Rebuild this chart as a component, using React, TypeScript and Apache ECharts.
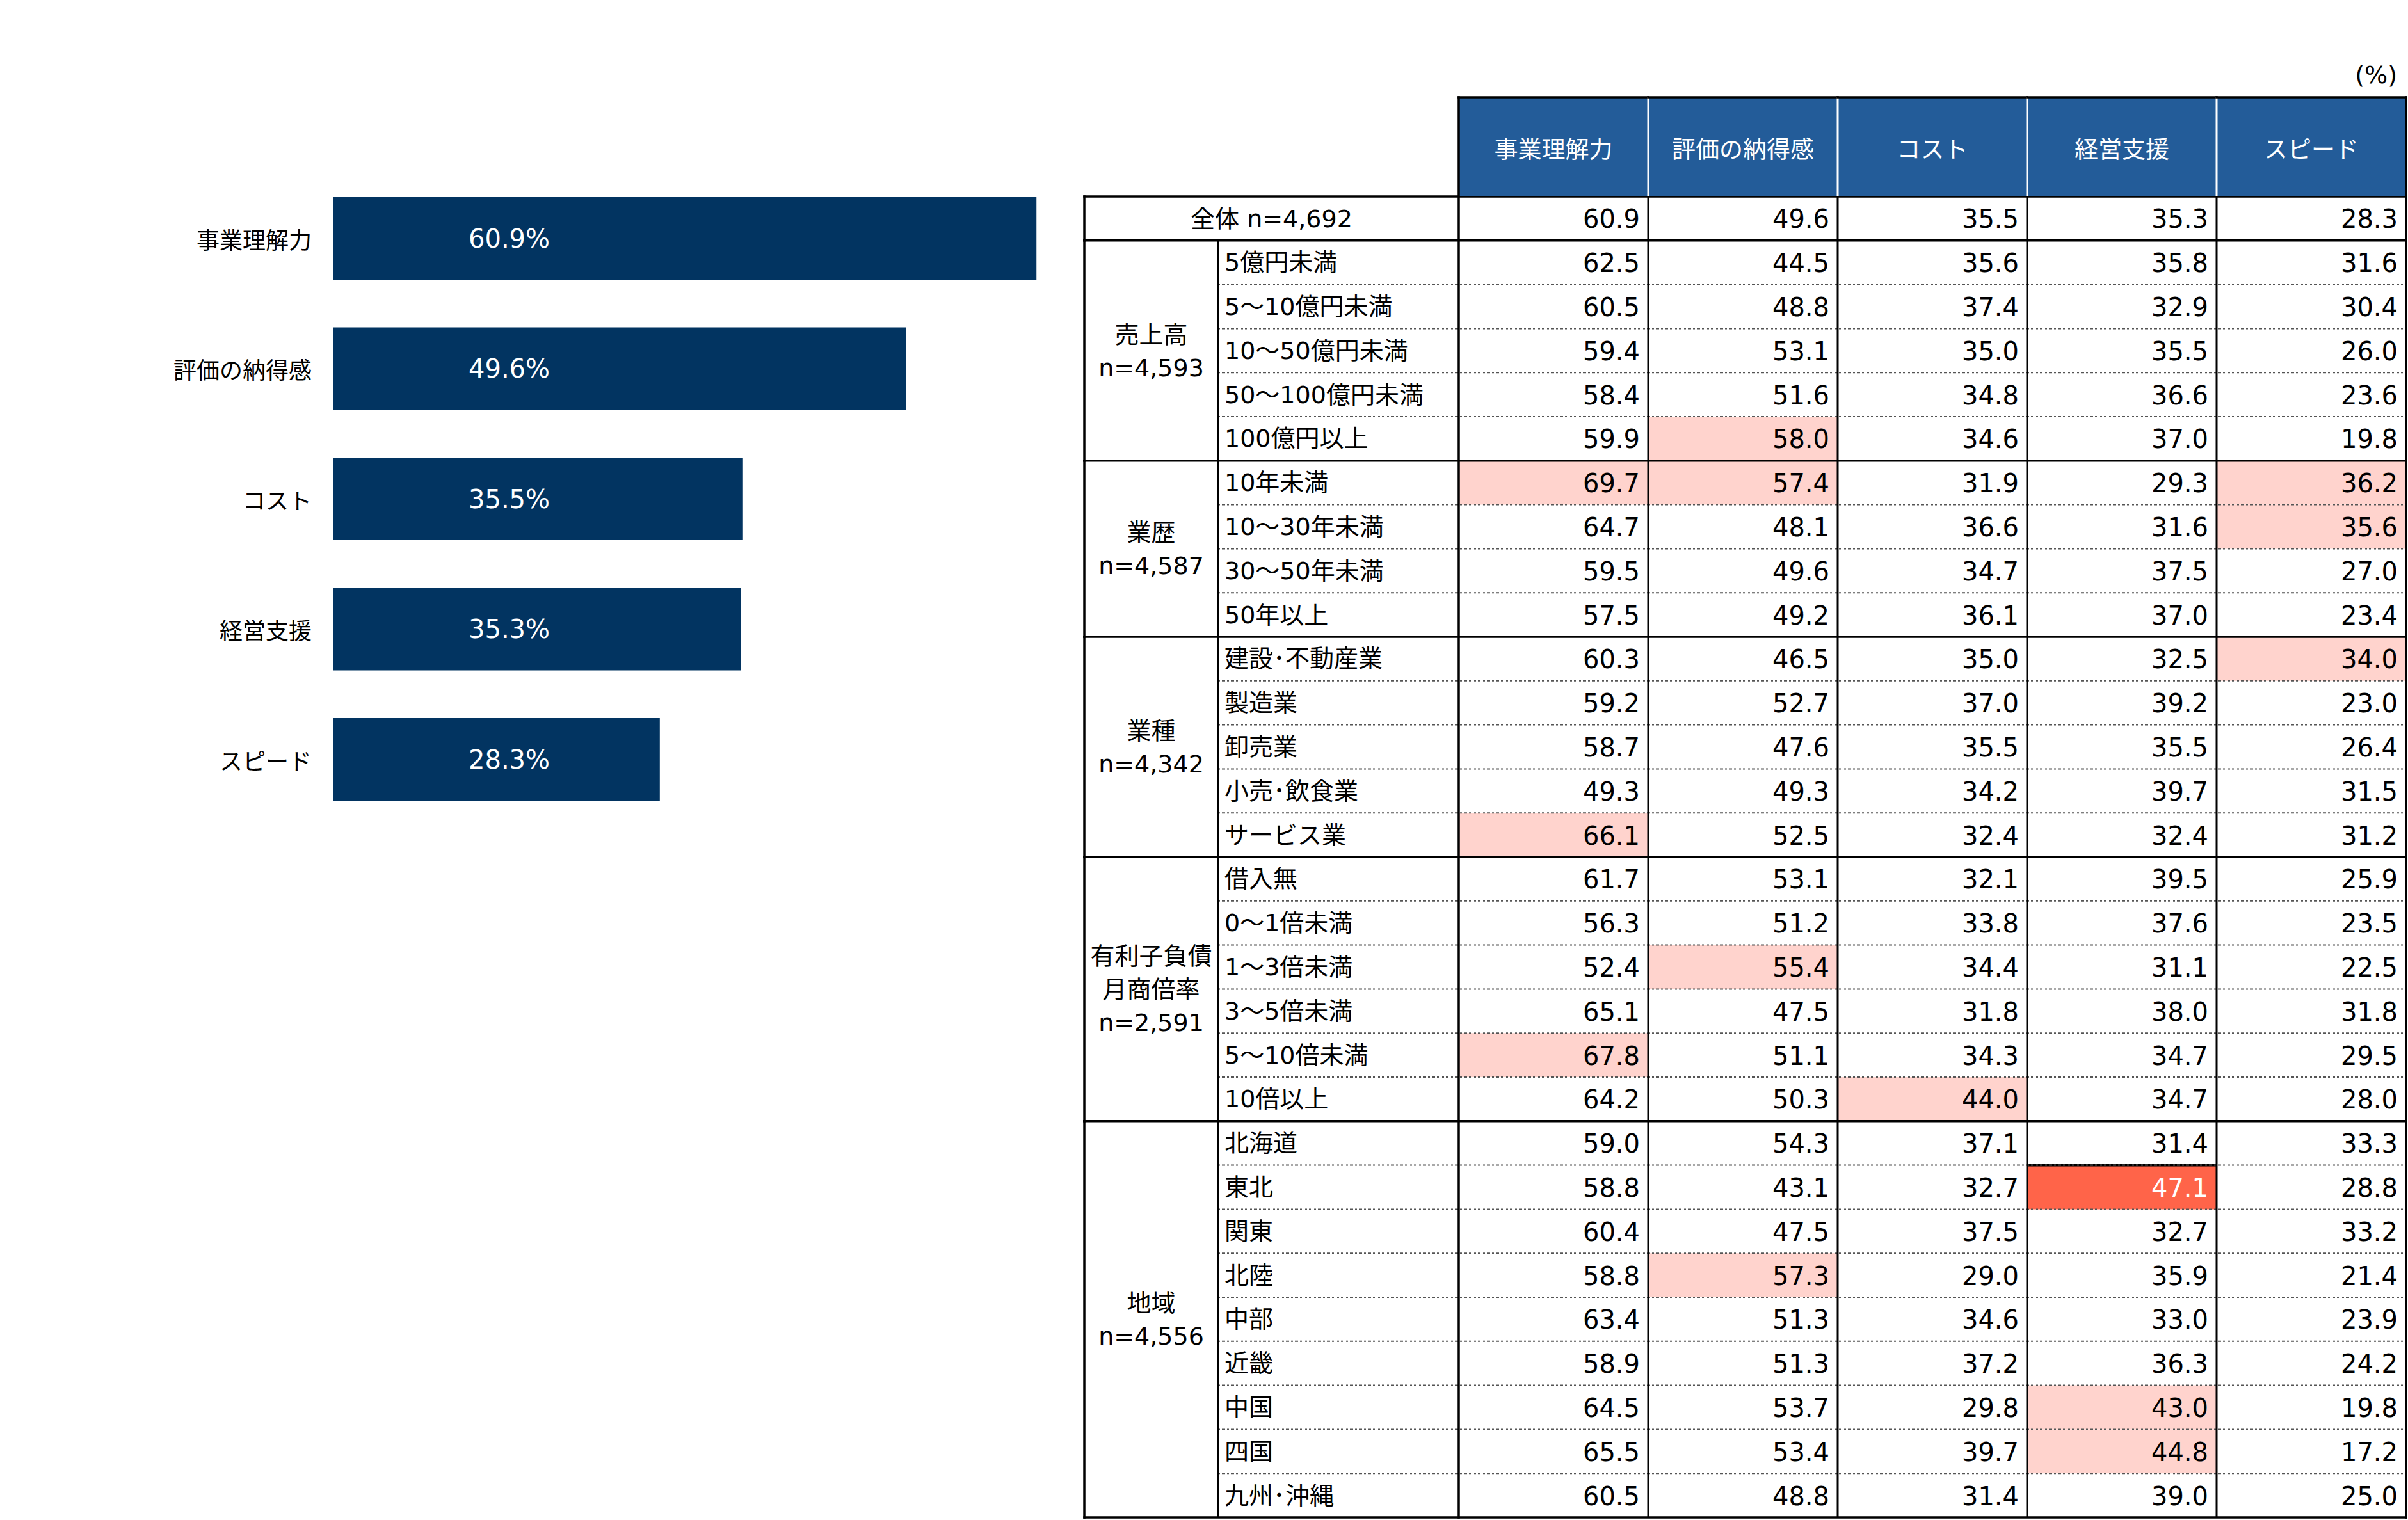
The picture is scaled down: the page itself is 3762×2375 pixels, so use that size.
import React, { useEffect, useRef } from 'react';
import * as echarts from 'echarts';

// ---------- data ----------
const barCategories = ['事業理解力', '評価の納得感', 'コスト', '経営支援', 'スピード'];
const barValues = [60.9, 49.6, 35.5, 35.3, 28.3];

const columns = ['事業理解力', '評価の納得感', 'コスト', '経営支援', 'スピード'];

const groupLabels = [
  '全体 n=4,692',
  '売上高\nn=4,593',
  '業歴\nn=4,587',
  '業種\nn=4,342',
  '有利子負債\n月商倍率\nn=2,591',
  '地域\nn=4,556',
];
const groupSizes = [1, 5, 4, 5, 6, 9];

const rowLabels = [
  '',
  '5億円未満', '5～10億円未満', '10～50億円未満', '50～100億円未満', '100億円以上',
  '10年未満', '10～30年未満', '30～50年未満', '50年以上',
  '建設･不動産業', '製造業', '卸売業', '小売･飲食業', 'サービス業',
  '借入無', '0～1倍未満', '1～3倍未満', '3～5倍未満', '5～10倍未満', '10倍以上',
  '北海道', '東北', '関東', '北陸', '中部', '近畿', '中国', '四国', '九州･沖縄',
];

const tableValues = [
  [60.9, 49.6, 35.5, 35.3, 28.3],
  [62.5, 44.5, 35.6, 35.8, 31.6],
  [60.5, 48.8, 37.4, 32.9, 30.4],
  [59.4, 53.1, 35.0, 35.5, 26.0],
  [58.4, 51.6, 34.8, 36.6, 23.6],
  [59.9, 58.0, 34.6, 37.0, 19.8],
  [69.7, 57.4, 31.9, 29.3, 36.2],
  [64.7, 48.1, 36.6, 31.6, 35.6],
  [59.5, 49.6, 34.7, 37.5, 27.0],
  [57.5, 49.2, 36.1, 37.0, 23.4],
  [60.3, 46.5, 35.0, 32.5, 34.0],
  [59.2, 52.7, 37.0, 39.2, 23.0],
  [58.7, 47.6, 35.5, 35.5, 26.4],
  [49.3, 49.3, 34.2, 39.7, 31.5],
  [66.1, 52.5, 32.4, 32.4, 31.2],
  [61.7, 53.1, 32.1, 39.5, 25.9],
  [56.3, 51.2, 33.8, 37.6, 23.5],
  [52.4, 55.4, 34.4, 31.1, 22.5],
  [65.1, 47.5, 31.8, 38.0, 31.8],
  [67.8, 51.1, 34.3, 34.7, 29.5],
  [64.2, 50.3, 44.0, 34.7, 28.0],
  [59.0, 54.3, 37.1, 31.4, 33.3],
  [58.8, 43.1, 32.7, 47.1, 28.8],
  [60.4, 47.5, 37.5, 32.7, 33.2],
  [58.8, 57.3, 29.0, 35.9, 21.4],
  [63.4, 51.3, 34.6, 33.0, 23.9],
  [58.9, 51.3, 37.2, 36.3, 24.2],
  [64.5, 53.7, 29.8, 43.0, 19.8],
  [65.5, 53.4, 39.7, 44.8, 17.2],
  [60.5, 48.8, 31.4, 39.0, 25.0],
];

// [row, col, level]  level 1 = light highlight, 2 = strong highlight
const highlights = [
  [5, 1, 1],
  [6, 0, 1], [6, 1, 1], [6, 4, 1],
  [7, 4, 1],
  [10, 4, 1],
  [14, 0, 1],
  [17, 1, 1],
  [19, 0, 1],
  [20, 2, 1],
  [22, 3, 2],
  [24, 1, 1],
  [27, 3, 1],
  [28, 3, 1],
];

// ---------- styles ----------
const FONT = "'DejaVu Sans', 'Noto Sans CJK JP', sans-serif";
const CJK = "'Noto Sans CJK JP', 'DejaVu Sans', sans-serif";
const BAR_COLOR = '#023461';
const HEADER_COLOR = '#235C99';
const PINK = '#FFD3CD';
const RED = '#FF6449';
const LABEL_W = 585; // width of the whole label area left of the data grid
const SUB_W = 376; // width of the sub-category label column
const HEADER_H = 155;

export default function App() {
  const ref = useRef<HTMLDivElement>(null);

  useEffect(() => {
    document.body.style.margin = '0';
    if (!ref.current) return;
    const chart = echarts.init(ref.current, undefined, { renderer: 'svg' });

    const levelOf = (r: number, c: number) => {
      const h = highlights.find((x) => x[0] === r && x[1] === c);
      return h ? h[2] : 0;
    };

    const cellData: number[][] = [];
    tableValues.forEach((row, r) =>
      row.forEach((v, c) => cellData.push([c, r, v, levelOf(r, c)]))
    );

    const groupStart: boolean[] = rowLabels.map(() => false);
    const groupData: number[][] = [];
    let acc = 0;
    groupSizes.forEach((n, i) => {
      groupStart[acc] = true;
      groupData.push([0, acc, acc + n - 1, i]);
      acc += n;
    });
    const lastRow = rowLabels.length - 1;

    const option: any = {
      animation: false,
      backgroundColor: '#fff',
      grid: [
        { left: 520, top: 270.75, width: 1805, height: 1017.5 },
        { left: 2279, top: 307, width: 1480, height: 2064 },
      ],
      xAxis: [
        { type: 'value', gridIndex: 0, min: 0, max: 100, show: false },
        { type: 'category', gridIndex: 1, data: columns, show: false },
      ],
      yAxis: [
        {
          type: 'category',
          gridIndex: 0,
          data: barCategories,
          inverse: true,
          axisLine: { show: false },
          axisTick: { show: false },
          axisLabel: { fontSize: 36, margin: 33, color: '#000', fontFamily: CJK },
        },
        {
          type: 'category',
          gridIndex: 1,
          data: rowLabels,
          inverse: true,
          axisLine: { show: false },
          axisTick: { show: false },
          splitLine: { show: false },
          axisLabel: {
            interval: 0,
            align: 'left',
            margin: 366,
            fontSize: 38,
            color: '#000',
            fontFamily: FONT,
          },
        },
      ],
      graphic: [
        {
          type: 'text',
          right: 17,
          top: 98,
          style: { text: '(%)', fontSize: 38, fontFamily: FONT, fill: '#000' },
        },
      ],
      series: [
        {
          type: 'bar',
          xAxisIndex: 0,
          yAxisIndex: 0,
          data: barValues,
          barWidth: 129,
          itemStyle: { color: BAR_COLOR },
          label: {
            show: true,
            position: [212, '50%'],
            align: 'left',
            verticalAlign: 'middle',
            formatter: '{c}%',
            color: '#fff',
            fontSize: 40,
            fontFamily: FONT,
          },
        },
        // table cells
        {
          type: 'custom',
          xAxisIndex: 1,
          yAxisIndex: 1,
          z: 2,
          data: cellData,
          renderItem: (params: any, api: any) => {
            const col = api.value(0);
            const row = api.value(1);
            const v = api.value(2);
            const lvl = api.value(3);
            const p = api.coord([col, row]);
            const s = api.size([1, 1]);
            const x0 = p[0] - s[0] / 2;
            const y0 = p[1] - s[1] / 2;
            const children: any[] = [];
            if (lvl > 0) {
              children.push({
                type: 'rect',
                shape: { x: x0, y: y0, width: s[0], height: s[1] },
                style: { fill: lvl === 2 ? RED : PINK },
              });
            }
            if (lvl === 2) {
              children.push({
                type: 'line',
                shape: { x1: x0, y1: y0, x2: x0 + s[0], y2: y0 },
                style: { stroke: '#000', lineWidth: 4 },
                z2: 10,
              });
            }
            children.push({
              type: 'text',
              style: {
                text: Number(v).toFixed(1),
                x: x0 + s[0] - 13,
                y: p[1] + 1,
                align: 'right',
                verticalAlign: 'middle',
                fontSize: 40,
                fontFamily: FONT,
                fill: lvl === 2 ? '#fff' : '#000',
              },
            });
            return { type: 'group', children };
          },
        },
        // horizontal row lines
        {
          type: 'custom',
          xAxisIndex: 1,
          yAxisIndex: 1,
          z: 4,
          data: rowLabels.map((_, r) => [0, r]),
          renderItem: (params: any, api: any) => {
            const r = api.value(1);
            const p = api.coord([0, r]);
            const s = api.size([1, 1]);
            const cs = params.coordSys;
            const top = p[1] - s[1] / 2;
            const right = cs.x + cs.width;
            const children: any[] = [];
            if (groupStart[r]) {
              children.push({
                type: 'line',
                shape: { x1: cs.x - LABEL_W, y1: top, x2: right, y2: top },
                style: { stroke: '#000', lineWidth: 3.5, lineCap: 'square' },
              });
            } else {
              children.push({
                type: 'line',
                shape: { x1: cs.x - SUB_W, y1: top, x2: right, y2: top },
                style: { stroke: '#555', lineWidth: 2, lineDash: [1, 1] },
              });
            }
            if (r === lastRow) {
              const bot = p[1] + s[1] / 2;
              children.push({
                type: 'line',
                shape: { x1: cs.x - LABEL_W, y1: bot, x2: right, y2: bot },
                style: { stroke: '#000', lineWidth: 3.5, lineCap: 'square' },
              });
            }
            return { type: 'group', children };
          },
        },
        // header + column lines
        {
          type: 'custom',
          xAxisIndex: 1,
          yAxisIndex: 1,
          z: 5,
          data: columns.map((_, c) => [c, 0]),
          renderItem: (params: any, api: any) => {
            const c = api.value(0);
            const p = api.coord([c, 0]);
            const s = api.size([1, 1]);
            const cs = params.coordSys;
            const x0 = p[0] - s[0] / 2;
            const hTop = cs.y - HEADER_H;
            const bot = cs.y + cs.height;
            const children: any[] = [
              {
                type: 'rect',
                shape: { x: x0, y: hTop, width: s[0], height: HEADER_H },
                style: { fill: HEADER_COLOR },
              },
              {
                type: 'text',
                style: {
                  text: columns[c],
                  x: p[0],
                  y: cs.y - HEADER_H / 2 + 1,
                  align: 'center',
                  verticalAlign: 'middle',
                  fontSize: 37,
                  fontFamily: CJK,
                  fill: '#fff',
                },
              },
            ];
            if (c === 0) {
              children.push({
                type: 'line',
                shape: { x1: x0, y1: hTop, x2: x0, y2: bot },
                style: { stroke: '#000', lineWidth: 3.5, lineCap: 'square' },
              });
            } else {
              children.push({
                type: 'line',
                shape: { x1: x0, y1: hTop, x2: x0, y2: cs.y },
                style: { stroke: '#fff', lineWidth: 3 },
              });
              children.push({
                type: 'line',
                shape: { x1: x0, y1: cs.y, x2: x0, y2: bot },
                style: { stroke: '#000', lineWidth: 3 },
              });
            }
            children.push({
              type: 'line',
              shape: { x1: x0, y1: hTop, x2: x0 + s[0], y2: hTop },
              style: { stroke: '#000', lineWidth: 3.5, lineCap: 'square' },
            });
            if (c === columns.length - 1) {
              children.push({
                type: 'line',
                shape: { x1: x0 + s[0], y1: hTop, x2: x0 + s[0], y2: bot },
                style: { stroke: '#000', lineWidth: 3.5, lineCap: 'square' },
              });
            }
            return { type: 'group', children };
          },
        },
        // group labels + label-area vertical lines
        {
          type: 'custom',
          xAxisIndex: 1,
          yAxisIndex: 1,
          z: 5,
          data: groupData,
          renderItem: (params: any, api: any) => {
            const start = api.value(1);
            const end = api.value(2);
            const i = api.value(3);
            const s = api.size([1, 1]);
            const pS = api.coord([0, start]);
            const pE = api.coord([0, end]);
            const cs = params.coordSys;
            const top = pS[1] - s[1] / 2;
            const bot = pE[1] + s[1] / 2;
            const left = cs.x - LABEL_W;
            const subX = cs.x - SUB_W;
            const children: any[] = [
              {
                type: 'text',
                style: {
                  text: groupLabels[i],
                  x: i === 0 ? (left + cs.x) / 2 : (left + subX) / 2,
                  y: (top + bot) / 2 + 1,
                  align: 'center',
                  verticalAlign: 'middle',
                  fontSize: 38,
                  lineHeight: 52,
                  fontFamily: FONT,
                  fill: '#000',
                },
              },
              {
                type: 'line',
                shape: { x1: left, y1: top, x2: left, y2: bot },
                style: { stroke: '#000', lineWidth: 3.5, lineCap: 'square' },
              },
            ];
            if (i > 0) {
              children.push({
                type: 'line',
                shape: { x1: subX, y1: top, x2: subX, y2: bot },
                style: { stroke: '#000', lineWidth: 3 },
              });
            }
            return { type: 'group', children };
          },
        },
      ],
    };

    chart.setOption(option);
    return () => chart.dispose();
  }, []);

  return <div ref={ref} style={{ width: 3762, height: 2375 }} />;
}
